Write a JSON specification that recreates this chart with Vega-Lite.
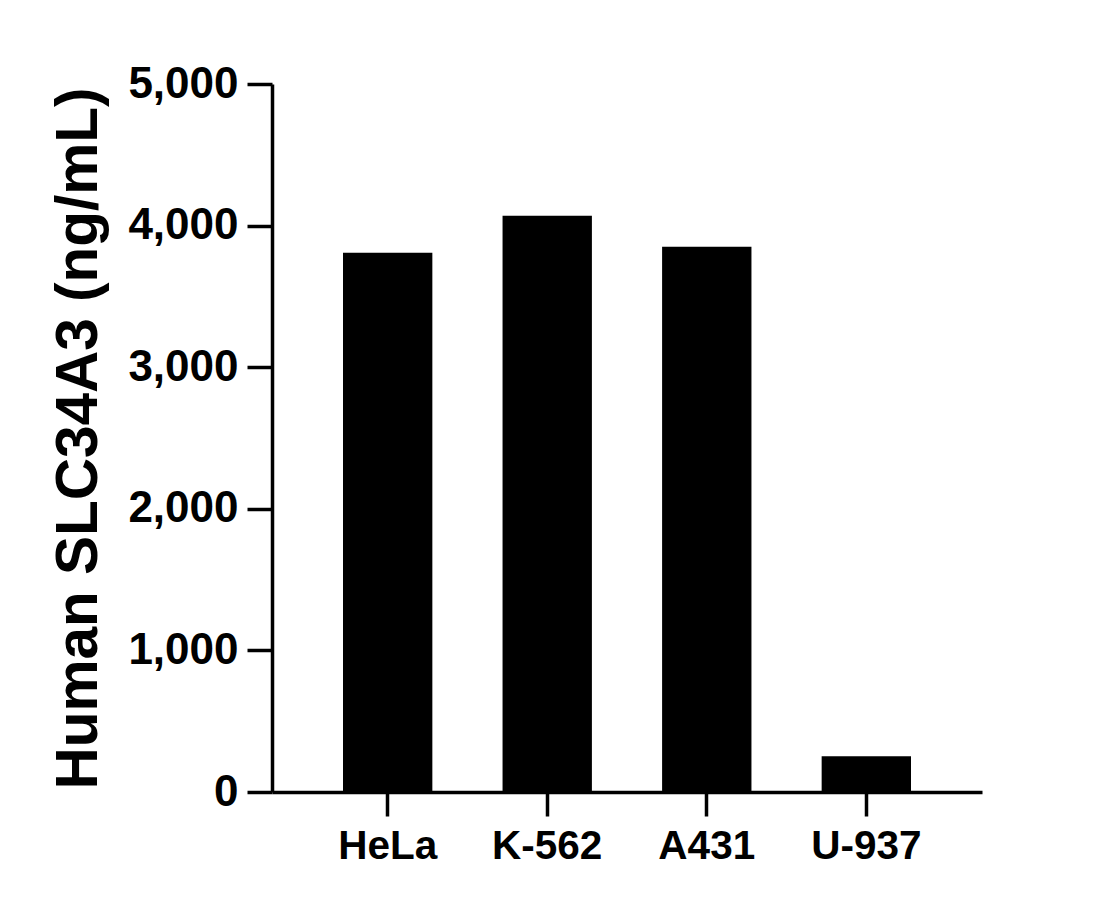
{
  "$schema": "https://vega.github.io/schema/vega-lite/v6.json",
  "autosize": {"type": "none"},
  "padding": {"left": 272, "top": 84, "right": 132, "bottom": 117},
  "width": 710,
  "height": 708,
  "background": "white",
  "data": {"values": [
    {"cell": "HeLa", "value": 3808},
    {"cell": "K-562", "value": 4069},
    {"cell": "A431", "value": 3850},
    {"cell": "U-937", "value": 252}
  ]},
  "mark": {"type": "bar", "color": "black"},
  "encoding": {
    "x": {
      "field": "cell", "type": "nominal", "sort": null,
      "scale": {"paddingInner": 0.44, "paddingOuter": 0.445},
      "axis": {
        "title": null, "labelAngle": 0,
        "labelFont": "Liberation Sans", "labelFontWeight": "bold", "labelFontSize": 40.5, "labelColor": "black",
        "labelPadding": 10,
        "domainColor": "black", "domainWidth": 3.5,
        "tickColor": "black", "tickWidth": 3.5, "tickSize": 24
      }
    },
    "y": {
      "field": "value", "type": "quantitative",
      "scale": {"domain": [0, 5000], "nice": false},
      "axis": {
        "title": "Human SLC34A3 (ng/mL)",
        "titleFont": "Liberation Sans", "titleFontWeight": "bold", "titleFontSize": 58.5, "titleColor": "black",
        "titlePadding": 19,
        "values": [0, 1000, 2000, 3000, 4000, 5000], "format": ",d",
        "labelFont": "Liberation Sans", "labelFontWeight": "bold", "labelFontSize": 44, "labelColor": "black",
        "labelPadding": 9,
        "grid": false,
        "domainColor": "black", "domainWidth": 3.5,
        "tickColor": "black", "tickWidth": 3.5, "tickSize": 25
      }
    }
  },
  "config": {"view": {"stroke": null}}
}
